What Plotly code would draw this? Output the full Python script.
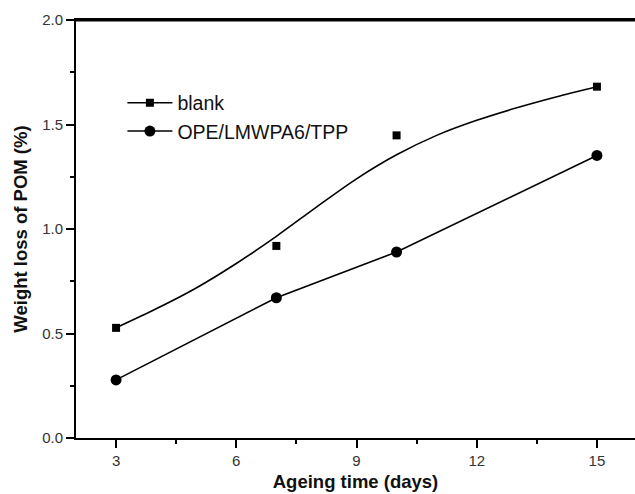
import plotly.graph_objects as go

# Data
days = [3, 7, 10, 15]
blank = [0.527, 0.919, 1.448, 1.681]
ope = [0.278, 0.671, 0.890, 1.352]

# smoothed fit curve of the blank series (as drawn in the reference)
fit_x = [3, 4, 5, 6, 7, 8, 9, 10, 11, 12, 13, 14, 15]
fit_y = [0.527, 0.618, 0.718, 0.835, 0.965, 1.105, 1.24, 1.355, 1.448, 1.52, 1.58, 1.633, 1.681]

x_ticks = [3, 6, 9, 12, 15]
y_ticks = [0.0, 0.5, 1.0, 1.5, 2.0]
y_tick_text = ["0.0", "0.5", "1.0", "1.5", "2.0"]

font = "Liberation Sans, Arial, sans-serif"

fig = go.Figure()

# blank fit curve
fig.add_trace(go.Scatter(x=fit_x, y=fit_y, mode="lines",
                         line=dict(color="black", width=1.6, shape="spline", smoothing=0.8),
                         showlegend=False, hoverinfo="skip"))
# blank markers
fig.add_trace(go.Scatter(x=days, y=blank, mode="markers", marker=dict(symbol="square", size=8, color="black"),
                         showlegend=False))
# OPE line + markers
fig.add_trace(go.Scatter(x=days, y=ope, mode="lines+markers", line=dict(color="black", width=1.6),
                         marker=dict(symbol="circle", size=11, color="black"), showlegend=False))

# legend entries
fig.add_trace(go.Scatter(x=[None], y=[None], mode="lines+markers", name="blank",
                         line=dict(color="black", width=1.6), marker=dict(symbol="square", size=8, color="black")))
fig.add_trace(go.Scatter(x=[None], y=[None], mode="lines+markers", name="OPE/LMWPA6/TPP",
                         line=dict(color="black", width=1.6), marker=dict(symbol="circle", size=11, color="black")))

fig.update_layout(
    width=635, height=494,
    margin=dict(l=76, r=0, t=20, b=56),
    paper_bgcolor="white", plot_bgcolor="white",
    font=dict(family=font, color="#222"),
    legend=dict(x=0.083, y=0.848, xanchor="left", yanchor="top", bgcolor="rgba(0,0,0,0)",
                font=dict(size=19.5, color="#111"), itemwidth=45, tracegroupgap=0),
    showlegend=True,
    shapes=[dict(type="line", xref="paper", yref="paper", x0=0, x1=1, y0=0.999, y1=0.999,
                 layer="above", line=dict(color="black", width=2))],
)

fig.update_xaxes(
    range=[2, 15.95], tickvals=x_ticks, ticks="outside", ticklen=8, tickwidth=2, tickcolor="black",
    showline=True, linecolor="black", linewidth=2, mirror=True, showgrid=False, zeroline=False,
    tickfont=dict(size=15, color="#333"),
    minor=dict(tickvals=[4.5, 7.5, 10.5, 13.5], ticks="outside", ticklen=4, tickwidth=2, tickcolor="black"),
    title=dict(text="<b>Ageing time (days)</b>", font=dict(size=18.5, color="#111"), standoff=7),
)
fig.update_yaxes(
    range=[0, 2.0], tickvals=y_ticks, ticktext=y_tick_text, ticks="outside", ticklen=8, tickwidth=2, tickcolor="black",
    showline=True, linecolor="black", linewidth=2, showgrid=False, zeroline=False,
    tickfont=dict(size=15, color="#333"),
    minor=dict(tickvals=[0.25, 0.75, 1.25, 1.75], ticks="outside", ticklen=4, tickwidth=2, tickcolor="black"),
    title=dict(text="<b>Weight loss of POM (%)</b>", font=dict(size=18.5, color="#111"), standoff=10),
)

fig.write_html("out.html", config={"displayModeBar": False},
               post_script="document.body.style.margin='0';document.body.style.overflow='hidden';")
